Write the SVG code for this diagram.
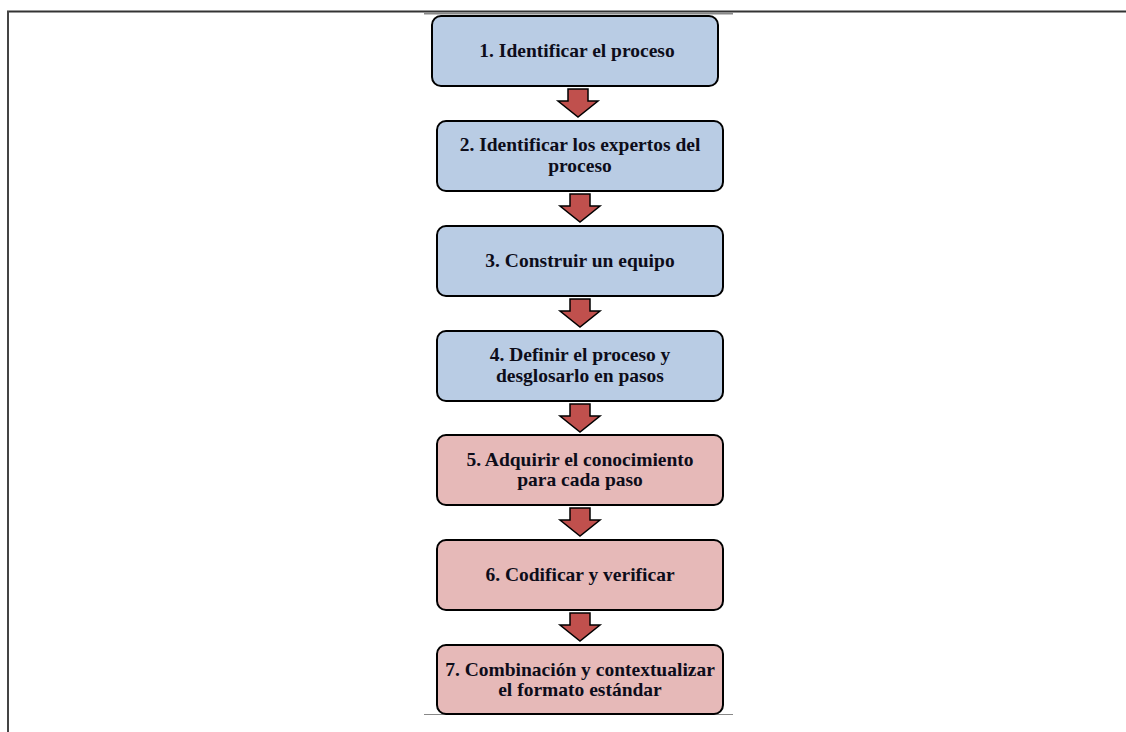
<svg xmlns="http://www.w3.org/2000/svg" width="1126" height="732" viewBox="0 0 1126 732">
<style>
.box{stroke:#000;stroke-width:2}
.blue{fill:#b9cce4}
.pink{fill:#e6b9b8}
.t{font-family:"Liberation Serif",serif;font-weight:bold;font-size:19.5px;fill:#0d0d1a;text-anchor:middle}
.arr{fill:#c0504d;stroke:#000;stroke-width:1.5;stroke-linejoin:miter}
</style>
<defs>
<path id="arrow" d="M-10,0 H10 V12 H20 L0,28 L-20,12 H-10 Z"/>
</defs>
<rect width="1126" height="732" fill="#fff"/>
<g id="frame">
<line x1="7" y1="11.5" x2="1126" y2="11.5" stroke="#333" stroke-width="2"/>
<line x1="8" y1="11" x2="8" y2="732" stroke="#444" stroke-width="2"/>
<line x1="424" y1="13.5" x2="733" y2="13.5" stroke="#888" stroke-width="2"/>
<line x1="424" y1="714.5" x2="733" y2="714.5" stroke="#888" stroke-width="1"/>
</g>
<g id="connectors">
<use href="#arrow" class="arr" x="578" y="89"/>
<use href="#arrow" class="arr" x="580" y="194"/>
<use href="#arrow" class="arr" x="580" y="299"/>
<use href="#arrow" class="arr" x="580" y="404"/>
<use href="#arrow" class="arr" x="580" y="508"/>
<use href="#arrow" class="arr" x="580" y="613"/>
</g>
<g id="n1"><rect class="box blue" x="432" y="16" width="286" height="70" rx="9"/><text class="t" x="577" y="57">1. Identificar el proceso</text></g>
<g id="n2"><rect class="box blue" x="437" y="121" width="286" height="70" rx="9"/><text class="t" x="580" y="151">2. Identificar los expertos del</text><text class="t" x="580" y="172">proceso</text></g>
<g id="n3"><rect class="box blue" x="437" y="226" width="286" height="70" rx="9"/><text class="t" x="580" y="267">3. Construir un equipo</text></g>
<g id="n4"><rect class="box blue" x="437" y="331" width="286" height="70" rx="9"/><text class="t" x="580" y="361">4. Definir el proceso y</text><text class="t" x="580" y="382">desglosarlo en pasos</text></g>
<g id="n5"><rect class="box pink" x="437" y="435" width="286" height="70" rx="9"/><text class="t" x="580" y="466">5. Adquirir  el conocimiento</text><text class="t" x="580" y="486">para  cada paso</text></g>
<g id="n6"><rect class="box pink" x="437" y="540" width="286" height="70" rx="9"/><text class="t" x="580" y="581">6. Codificar y verificar</text></g>
<g id="n7"><rect class="box pink" x="437" y="645" width="286" height="69" rx="9"/><text class="t" x="580" y="676">7. Combinación y contextualizar</text><text class="t" x="580" y="696">el formato estándar</text></g>
</svg>
